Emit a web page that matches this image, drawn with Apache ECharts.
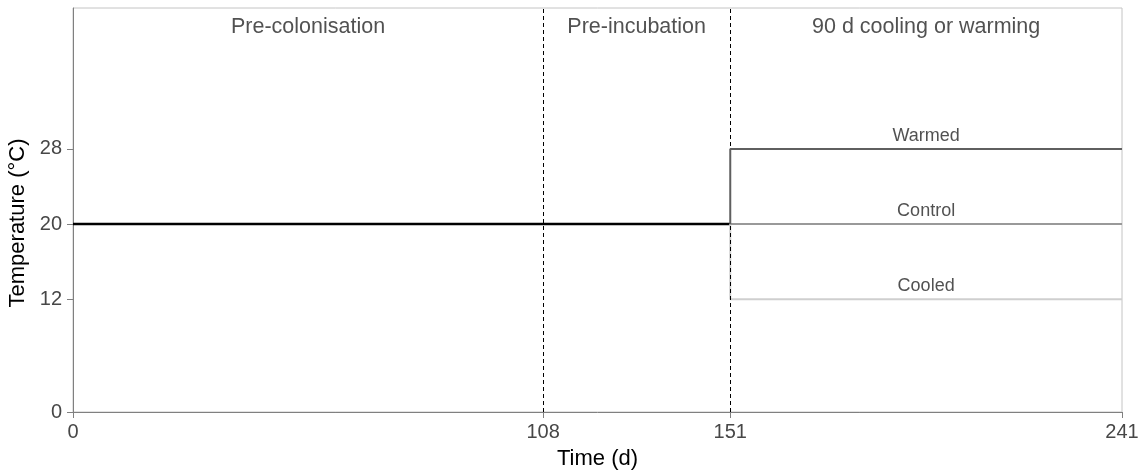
<!DOCTYPE html>
<html>
<head>
<meta charset="utf-8">
<script src="https://cdn.jsdelivr.net/npm/echarts@6/dist/echarts.min.js"></script>
<style>
html,body{margin:0;padding:0;background:#fff;}
#chart{width:1143px;height:470px;}
</style>
</head>
<body>
<div id="chart"></div>
<script>
// ---- data ----
const timeTicks = [0, 108, 151, 241];
const tempTicks = [0, 12, 20, 28];
const phaseNames = ['Pre-colonisation', 'Pre-incubation', '90 d cooling or warming'];
const phaseBounds = [0, 108, 151, 241];
const phaseLabelTemp = 41;
const baselineTime = [0, 151];
const baselineTemp = 20;
const treatmentNames = ['Cooled', 'Control', 'Warmed'];
const treatmentTemps = [12, 20, 28];
const treatmentStart = 151;
const treatmentEnd = 241;

const FONT = "'Liberation Sans', Arial, sans-serif";
const treatmentColors = {Cooled: '#cfcfcf', Control: '#999999', Warmed: '#5f5f5f'};

const series = [];
series.push({
  type: 'line',
  name: 'Baseline',
  data: baselineTime.map(t => [t, baselineTemp]),
  symbol: 'none',
  lineStyle: {color: '#000', width: 2.5},
  z: 3,
  markLine: {
    silent: true,
    symbol: ['none', 'none'],
    label: {show: false},
    lineStyle: {color: '#000', width: 1, type: [4, 3]},
    data: phaseBounds.slice(1, -1).map(b => ({xAxis: b}))
  }
});
treatmentNames.forEach((n, i) => {
  series.push({
    type: 'line',
    name: n,
    data: [[treatmentStart, baselineTemp], [treatmentStart, treatmentTemps[i]], [treatmentEnd, treatmentTemps[i]]],
    symbol: 'none',
    lineStyle: {color: treatmentColors[n], width: 2},
    z: 4 + i
  });
});
// treatment labels
series.push({
  type: 'scatter',
  symbolSize: 0,
  silent: true,
  data: treatmentNames.map((n, i) => ({name: n, value: [(treatmentStart + treatmentEnd) / 2, treatmentTemps[i]]})),
  label: {
    show: true, position: 'top', distance: 4,
    formatter: p => p.name,
    fontFamily: FONT, fontSize: 18, color: '#262626'
  },
  z: 10
});
// phase labels
series.push({
  type: 'scatter',
  symbolSize: 0,
  silent: true,
  data: phaseNames.map((n, i) => ({name: n, value: [(phaseBounds[i] + phaseBounds[i + 1]) / 2, phaseLabelTemp]})),
  label: {
    show: true, position: 'inside',
    formatter: p => p.name,
    fontFamily: FONT, fontSize: 21.5, color: '#262626'
  },
  z: 10
});

const chart = echarts.init(document.getElementById('chart'), null, {renderer: 'canvas'});
chart.setOption({
  animation: false,
  backgroundColor: '#fff',
  grid: {left: 73, right: 21, top: 8, bottom: 58, show: true, borderColor: '#c4c4c4', borderWidth: 1, outerBoundsMode: 'none', containLabel: false},
  xAxis: {
    type: 'value', min: 0, max: 241,
    name: 'Time (d)', nameLocation: 'middle', nameGap: 36,
    nameTextStyle: {fontFamily: FONT, fontSize: 22, color: '#000'},
    axisLine: {show: true, lineStyle: {color: '#808080', width: 1}},
    axisTick: {show: true, length: 6, customValues: timeTicks, lineStyle: {color: '#808080'}},
    axisLabel: {customValues: timeTicks, margin: 10, fontFamily: FONT, fontSize: 20, color: '#474747'},
    splitLine: {show: false}
  },
  yAxis: {
    type: 'value', min: 0, max: 43,
    name: 'Temperature (°C)', nameLocation: 'middle', nameGap: 37,
    nameTextStyle: {fontFamily: FONT, fontSize: 22, color: '#000', padding: [0, 26, 0, 0]},
    axisLine: {show: true, lineStyle: {color: '#808080', width: 1}},
    axisTick: {show: true, length: 6, customValues: tempTicks, lineStyle: {color: '#808080'}},
    axisLabel: {customValues: tempTicks, margin: 11, fontFamily: FONT, fontSize: 20, color: '#474747'},
    splitLine: {show: false}
  },
  series: series
});
</script>
</body>
</html>
